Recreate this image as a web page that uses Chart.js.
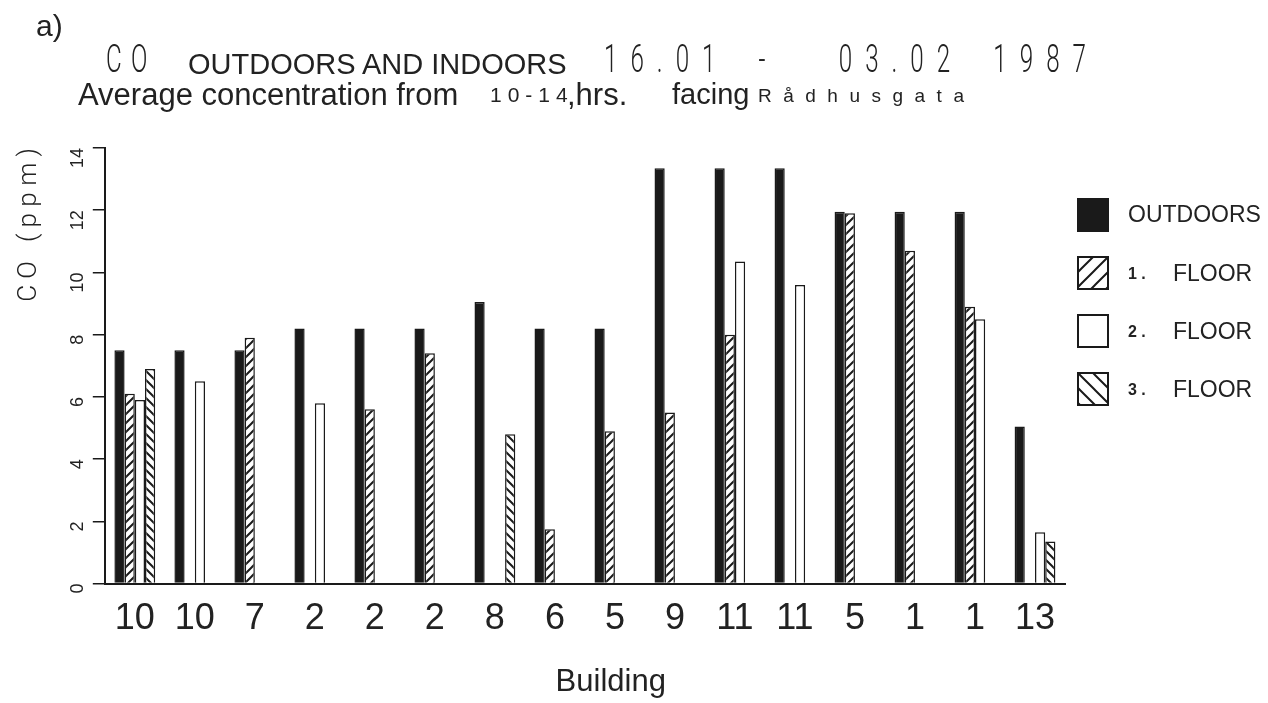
<!DOCTYPE html>
<html>
<head>
<meta charset="utf-8">
<script src="https://cdn.jsdelivr.net/npm/chart.js@4/dist/chart.umd.min.js"></script>
<style>
  html, body { margin: 0; padding: 0; background: #fff; }
  #wrap { position: relative; width: 1268px; height: 703px; }
  #chart { position: absolute; left: 0; top: 0; }
  .t { position: absolute; white-space: pre; color: #222; font-family: "Liberation Sans", Arial, sans-serif; line-height: 1; }
  .thin { font-family: Roboto, "DejaVu Sans", sans-serif; font-weight: 300; font-size: 39px; letter-spacing: 21px; word-spacing: 18px; transform: scaleX(0.62); transform-origin: 0 0; }
</style>
</head>
<body>
<div id="wrap">
  <canvas id="chart" width="1268" height="703"></canvas>
  <div class="t" style="left:36px; top:11px; font-size:30px;">a)</div>
  <div class="t thin" style="left:106px; top:40px; letter-spacing:15px;">CO</div>
  <div class="t" style="left:188px; top:50px; font-size:29px;">OUTDOORS AND INDOORS</div>
  <div class="t thin" style="left:604px; top:40px;">16.01 -  03.02 1987</div>
  <div class="t" style="left:78px; top:79px; font-size:31px;">Average concentration from</div>
  <div class="t" style="left:490px; top:84px; font-size:21px; letter-spacing:6px;">10-14</div>
  <div class="t" style="left:567px; top:79px; font-size:31px;">,hrs.</div>
  <div class="t" style="left:672px; top:80px; font-size:29px;">facing</div>
  <div class="t" style="left:758px; top:86px; font-size:19px; letter-spacing:11.5px;">Rådhusgata</div>
</div>
<script>
// building numbers along the x axis
const buildings = ['10', '10', '7', '2', '2', '2', '8', '6', '5', '9', '11', '11', '5', '1', '1', '13'];

// CO (ppm), average 10-14 hrs
const outdoors = [7.5, 7.5, 7.5, 8.2, 8.2, 8.2, 9.05, 8.2, 8.2, 13.35, 13.35, 13.35, 11.95, 11.95, 11.95, 5.05];
const floor1 = [6.1, null, 7.9, null, 5.6, 7.4, null, 1.75, 4.9, 5.5, 8.0, null, 11.9, 10.7, 8.9, null];
const floor2 = [5.9, 6.5, null, 5.8, null, null, null, null, null, null, 10.35, 9.6, null, null, 8.5, 1.65];
const floor3 = [6.9, null, null, null, null, null, 4.8, null, null, null, null, null, null, null, null, 1.35];

const yTicks = [0, 2, 4, 6, 8, 10, 12, 14];

const ink = '#1a1a1a';
const textFont = '"Liberation Sans", Arial, sans-serif';

// diagonal hatch fills
function hatch(dir, s, w) {
  const c = document.createElement('canvas');
  c.width = s; c.height = s;
  const g = c.getContext('2d');
  g.fillStyle = '#fff';
  g.fillRect(0, 0, s, s);
  g.strokeStyle = ink;
  g.lineWidth = w;
  g.beginPath();
  for (let k = -1; k <= 1; k++) {
    if (dir === '/') { g.moveTo(k * s - 2, s + 2); g.lineTo(k * s + s + 2, -2); }
    else { g.moveTo(k * s - 2, -2); g.lineTo(k * s + s + 2, s + 2); }
  }
  g.stroke();
  return g.createPattern(c, 'repeat');
}

// legend on the right, drawn from the datasets
const sideLegend = {
  id: 'sideLegend',
  afterDraw(chart, args, o) {
    const ctx = chart.ctx;
    chart.data.datasets.forEach((ds, i) => {
      const y = o.top + i * o.step;
      ctx.save();
      ctx.fillStyle = ds.legendFill || ds.backgroundColor;
      ctx.fillRect(o.left, y, o.boxW, o.boxH);
      ctx.strokeStyle = ink;
      ctx.lineWidth = 2;
      ctx.strokeRect(o.left, y, o.boxW, o.boxH);
      ctx.fillStyle = '#222';
      ctx.textBaseline = 'middle';
      const parts = ds.label.split(' ');
      if (parts.length === 1) {
        ctx.font = '23px ' + textFont;
        ctx.fillText(ds.label, o.textLeft, y + o.boxH / 2 + 1);
      } else {
        ctx.font = 'bold 16px ' + textFont;
        ctx.fillText(parts[0].split('').join(' '), o.textLeft, y + o.boxH / 2 + 2);
        ctx.font = '23px ' + textFont;
        ctx.fillText(parts[1], o.textLeft + 45, y + o.boxH / 2 + 2);
      }
      ctx.restore();
    });
  }
};

const bar = { borderColor: ink, borderWidth: 1.5, barPercentage: 1, categoryPercentage: 0.68 };

new Chart(document.getElementById('chart'), {
  type: 'bar',
  data: {
    labels: buildings,
    datasets: [
      { label: 'OUTDOORS', data: outdoors, backgroundColor: ink, ...bar },
      { label: '1. FLOOR', data: floor1, backgroundColor: hatch('/', 9, 2), legendFill: hatch('/', 15, 2), ...bar },
      { label: '2. FLOOR', data: floor2, backgroundColor: '#fff', ...bar },
      { label: '3. FLOOR', data: floor3, backgroundColor: hatch('\\', 9, 2), legendFill: hatch('\\', 15, 2), ...bar }
    ]
  },
  options: {
    responsive: false,
    animation: false,
    layout: { padding: { top: 148, left: 14, right: 203, bottom: 2 } },
    plugins: {
      tooltip: { enabled: false },
      legend: { display: false },
      sideLegend: { left: 1078, top: 199, step: 58, boxW: 30, boxH: 32, textLeft: 1128 }
    },
    scales: {
      x: {
        grid: { display: false },
        border: { display: true, color: ink, width: 2 },
        ticks: { color: '#222', font: { family: textFont, size: 36 }, maxRotation: 0, padding: 6 },
        title: { display: true, text: '      Building', color: '#222', font: { family: textFont, size: 31 }, padding: { top: 17, bottom: 0 } }
      },
      y: {
        min: 0,
        max: 14,
        afterBuildTicks: axis => { axis.ticks = yTicks.map(v => ({ value: v })); },
        grid: { drawOnChartArea: false, drawTicks: true, tickLength: 12, color: ink, lineWidth: 1.5 },
        border: { display: true, color: ink, width: 2 },
        ticks: { color: '#222', minRotation: 90, maxRotation: 90, padding: 15, font: { family: textFont, size: 18 } },
        title: { display: true, text: 'C O   ( p p m )', align: 'end', color: '#222', font: { family: 'Roboto, sans-serif', weight: '300', size: 26 }, padding: { top: 0, bottom: -4 } }
      }
    }
  },
  plugins: [sideLegend]
});
</script>
</body>
</html>
